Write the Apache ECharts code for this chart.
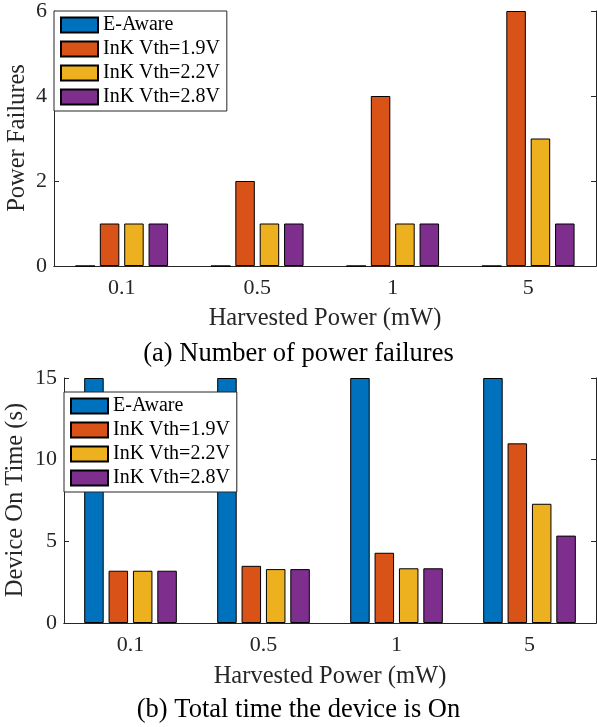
<!DOCTYPE html>
<html>
<head>
<meta charset="utf-8">
<script src="https://cdn.jsdelivr.net/npm/echarts@6/dist/echarts.min.js"></script>
<style>
  html, body { margin: 0; padding: 0; background: #fff; }
  #chart { width: 597px; height: 727px; }
</style>
</head>
<body>
<div id="chart"></div>
<script>
// harvested power levels (mW)
const categories = ['0.1', '0.5', '1', '5'];
const seriesNames = ['E-Aware', 'InK Vth=1.9V', 'InK Vth=2.2V', 'InK Vth=2.8V'];
const colors = ['#0072BD', '#D95319', '#EDB120', '#7E2F8E'];

// (a) number of power failures
const failEAware = [0, 0, 0, 0];
const fail19 = [1, 2, 4, 6];
const fail22 = [1, 1, 1, 3];
const fail28 = [1, 1, 1, 1];

// (b) device on time (s)
const onEAware = [15, 15, 15, 15];
const on19 = [3.2, 3.5, 4.3, 11.0];
const on22 = [3.2, 3.3, 3.35, 7.3];
const on28 = [3.2, 3.3, 3.35, 5.35];

const font = 'Liberation Serif';
const ink = '#262626';

const chart = echarts.init(document.getElementById('chart'));

function mainX(gridIndex, gap) {
    return {
        type: 'category', gridIndex, data: categories,
        name: 'Harvested Power (mW)', nameLocation: 'middle', nameGap: gap,
        nameTextStyle: { fontFamily: font, fontSize: 24.5, color: ink },
        axisLine: { lineStyle: { color: ink, width: 1 } },
        axisTick: { alignWithLabel: true, inside: true, length: 5, lineStyle: { color: ink } },
        axisLabel: { fontFamily: font, fontSize: 22, color: ink, margin: 11 },
        splitLine: { show: false }
    };
}
function boxX(gridIndex) {
    return {
        type: 'category', gridIndex, data: categories, position: 'top',
        axisLine: { lineStyle: { color: ink, width: 1 } },
        axisTick: { alignWithLabel: true, inside: true, length: 5, lineStyle: { color: ink } },
        axisLabel: { show: false }, splitLine: { show: false }
    };
}
function mainY(gridIndex, max, interval) {
    return {
        type: 'value', gridIndex, min: 0, max, interval,
        axisLine: { show: true, lineStyle: { color: ink, width: 1 } },
        axisTick: { show: true, inside: true, length: 5, lineStyle: { color: ink } },
        axisLabel: { fontFamily: font, fontSize: 22, color: ink, margin: 7 },
        splitLine: { show: false }
    };
}
function boxY(gridIndex, max, interval) {
    return {
        type: 'value', gridIndex, min: 0, max, interval, position: 'right',
        axisLine: { show: true, lineStyle: { color: ink, width: 1 } },
        axisTick: { show: true, inside: true, length: 5, lineStyle: { color: ink } },
        axisLabel: { show: false }, splitLine: { show: false }
    };
}
function bars(xAxisIndex, yAxisIndex, values) {
    return values.map((data, i) => ({
        name: seriesNames[i], type: 'bar', xAxisIndex, yAxisIndex, data,
        barWidth: 19.5, barGap: '25%',
        itemStyle: { color: colors[i], borderColor: '#000', borderWidth: 1 }
    }));
}
function legend(left, top) {
    return {
        orient: 'vertical', left, top, data: seriesNames,
        icon: 'rect', itemWidth: 37, itemHeight: 15, itemGap: 4,
        padding: [4, 7, 4, 6],
        backgroundColor: '#fff', borderColor: ink, borderWidth: 1,
        textStyle: { fontFamily: font, fontSize: 20, color: '#000' },
        selectedMode: false
    };
}
function yTitle(text, x, y) {
    return {
        type: 'text', x, y, rotation: Math.PI / 2,
        style: { text, font: '24.5px "Liberation Serif"', fill: ink,
                 textAlign: 'center', textVerticalAlign: 'middle' }
    };
}

chart.setOption({
    animation: false,
    color: colors,
    grid: [
        { left: 54, right: 1, top: 11, height: 255, outerBoundsMode: 'none' },
        { left: 64, right: 1, top: 378, height: 245, outerBoundsMode: 'none' }
    ],
    xAxis: [mainX(0, 40), boxX(0), mainX(1, 41), boxX(1)],
    yAxis: [mainY(0, 6, 2), boxY(0, 6, 2), mainY(1, 15, 5), boxY(1, 15, 5)],
    legend: [legend(54, 11), legend(64, 392)],
    series: [
        ...bars(0, 0, [failEAware, fail19, fail22, fail28]),
        ...bars(2, 2, [onEAware, on19, on22, on28])
    ],
    graphic: [
        yTitle('Power Failures', 18, 138),
        yTitle('Device On Time (s)', 16, 500),
        { type: 'text', left: 'center', top: 341,
          style: { text: '(a) Number of power failures', font: '26.5px "Liberation Serif"', fill: '#000' } },
        { type: 'text', left: 'center', top: 697,
          style: { text: '(b) Total time the device is On', font: '26.5px "Liberation Serif"', fill: '#000' } }
    ]
});
</script>
</body>
</html>
